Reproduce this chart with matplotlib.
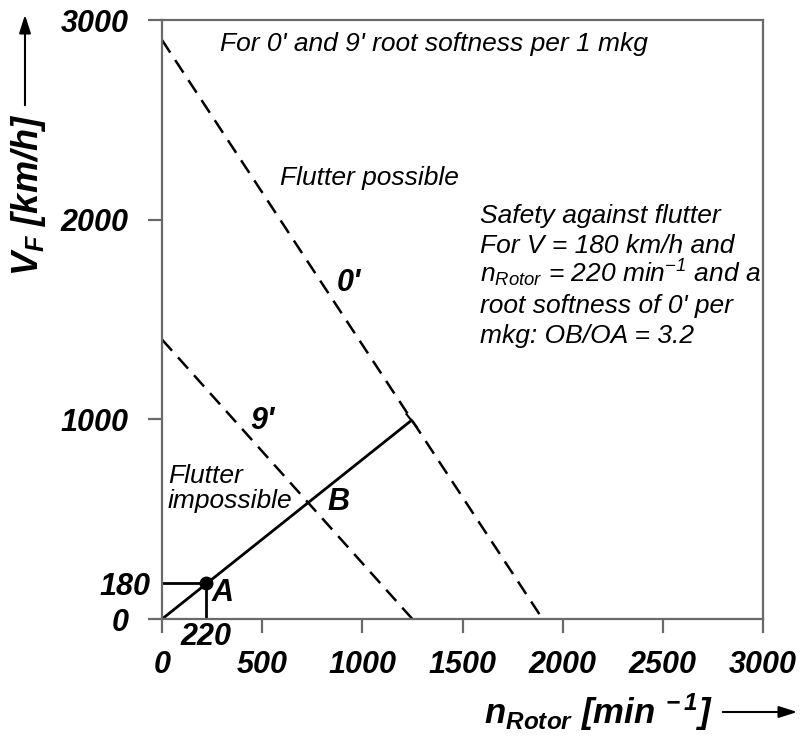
import matplotlib
matplotlib.use("Agg")
import matplotlib.pyplot as plt
import numpy as np

# fonts: Arial-like, italic everywhere
plt.rcParams['font.family'] = ['Liberation Sans', 'DejaVu Sans']
plt.rcParams['mathtext.fontset'] = 'custom'
plt.rcParams['mathtext.rm'] = 'Liberation Sans:italic'
plt.rcParams['mathtext.it'] = 'Liberation Sans:italic'
plt.rcParams['mathtext.bf'] = 'Liberation Sans:italic:bold'

# data
x_ticks = [0, 500, 1000, 1500, 2000, 2500, 3000]
y_ticks = [0, 1000, 2000, 3000]

# dashed stability limits (root softness 0' and 9')
line0_x = [0, 1900]
line0_y = [2900, 0]
line9_x = [0, 1250]
line9_y = [1400, 0]

# operating point A and ray O-B
A_n = 220
A_v = 180
ray_x = [0, 1245]
ray_y = [0, 995]

fig = plt.figure(figsize=(8.06, 7.37), dpi=100)
ax = fig.add_axes([0.201, 0.160, 0.7457, 0.8128])

dash = (0, (6, 3.6))
ax.plot(line0_x, line0_y, color='black', lw=1.8, linestyle=dash)
ax.plot(line9_x, line9_y, color='black', lw=1.8, linestyle=dash)
ax.plot(ray_x, ray_y, color='black', lw=2)
ax.plot([0, A_n], [A_v, A_v], color='black', lw=2)
ax.plot([A_n, A_n], [0, A_v], color='black', lw=2)
ax.plot([A_n], [A_v], 'o', color='black', markersize=9)

# small end mark across the ray
dx, dy = ray_x[1] - ray_x[0], ray_y[1] - ray_y[0]
L = np.hypot(dx, dy)
px, py = -dy / L * 40, dx / L * 40
ax.plot([ray_x[1] - px, ray_x[1] + px], [ray_y[1] - py, ray_y[1] + py], color='black', lw=1.5)

ax.set_xlim(0, 3000)
ax.set_ylim(0, 3000)

for s in ax.spines.values():
    s.set_color('#6a6a6a')
    s.set_linewidth(1.6)

bi = dict(fontsize=22, fontweight='bold', fontstyle='italic')
ax.set_xticks(x_ticks)
ax.set_xticklabels([str(v) for v in x_ticks], **bi)
ax.set_yticks(y_ticks)
ax.set_yticklabels([str(v) for v in y_ticks], **bi)
ax.tick_params(axis='both', which='major', direction='out', length=10, width=1.6, color='#6a6a6a')
ax.tick_params(axis='x', which='major', pad=12)
ax.tick_params(axis='y', which='major', pad=14)

# extra labels for point A
ax.set_xticks([A_n], minor=True)
ax.set_xticklabels([str(A_n)], minor=True, **bi)
ax.set_yticks([A_v], minor=True)
ax.set_yticklabels([str(A_v)], minor=True, **bi)
ax.tick_params(axis='x', which='minor', length=0, pad=2)
ax.tick_params(axis='y', which='minor', length=0, pad=8)

it = dict(fontsize=19, fontstyle='italic')
ax.text(290, 2880, "For 0' and 9' root softness per 1 mkg", va='center', ha='left', **it)
ax.text(590, 2210, "Flutter possible", va='center', ha='left', **it)
ax.text(30, 681, "Flutter", va='baseline', ha='left', **it)
ax.text(30, 556, "impossible", va='baseline', ha='left', **it)

safety = ["Safety against flutter",
          "For V = 180 km/h and",
          r"$\mathrm{n_{Rotor}}$ = 220 min$^{\mathrm{-1}}$ and a",
          "root softness of 0' per",
          "mkg: OB/OA = 3.2"]
base_y = [1983, 1833, 1688, 1532, 1382]
for s, yb in zip(safety, base_y):
    ax.text(1588, yb, s, va='baseline', ha='left', **it)

big = dict(fontsize=22, fontweight='bold', fontstyle='italic')
ax.text(870, 1682, "0'", va='center', ha='left', **big)
ax.text(440, 991, "9'", va='center', ha='left', **big)
ax.text(825, 586, "B", va='center', ha='left', **big)
ax.text(250, 130, "A", va='center', ha='left', **big)

# axis titles with arrows
fig.text(28, 737 - 195, r"$\mathbf{V_F\ [km/h]}$", rotation=90, va='center', ha='center',
         fontsize=26, transform=None)
fig.text(598, 737 - 712, r"$\mathbf{n_{Rotor}\ [min^{\ -1}]}$", va='center', ha='center',
         fontsize=25, transform=None)
ax.annotate('', xy=(25, 737 - 12), xytext=(25, 737 - 108), xycoords='figure pixels',
            textcoords='figure pixels',
            arrowprops=dict(arrowstyle='-|>,head_length=1.1,head_width=0.35', color='black', lw=1.5))
ax.annotate('', xy=(800, 737 - 712), xytext=(720, 737 - 712), xycoords='figure pixels',
            textcoords='figure pixels',
            arrowprops=dict(arrowstyle='-|>,head_length=1.1,head_width=0.35', color='black', lw=1.5))

fig.savefig('out.png', dpi=100)
